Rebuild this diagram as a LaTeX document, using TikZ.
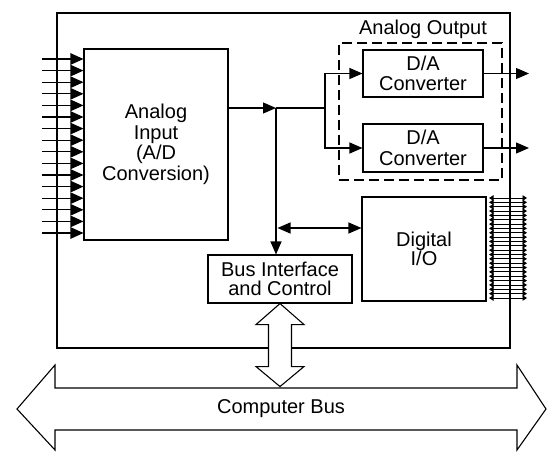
\documentclass[tikz,border=0pt]{standalone}
\usepackage{fontspec}
\setmainfont{Liberation Sans}
\usetikzlibrary{arrows.meta}

\begin{document}
\begin{tikzpicture}[
  x=1pt,y=-1pt,
  line width=1.1pt,
  font=\fontsize{20}{20.5}\selectfont,
  blk/.style={draw,line width=1.1pt,inner sep=0pt,align=center},
  grp/.style={draw,line width=1.1pt,dash pattern=on 10pt off 5pt,inner sep=0pt},
  arr/.style={-{Triangle[length=13pt,width=11pt]}},
  dblarr/.style={{Triangle[length=13pt,width=11pt]}-{Triangle[length=13pt,width=11pt]}},
  inarr/.style={-{Triangle[length=13pt,width=11.5pt]}},
  dioarr/.style={{Triangle[length=4.5pt,width=5.5pt]}-{Triangle[length=4.5pt,width=5.5pt]},line width=0.9pt},
  bus/.style={draw,fill=white,line width=1.1pt,line join=miter}
]
\useasboundingbox (0,0) rectangle (547,452);

% board and blocks
\node[blk,minimum width=453pt,minimum height=335pt] (board) at (283.5,180.5) {};
\node[blk,minimum width=144pt,minimum height=191pt] (ai) at (156,144.5) {Analog\\Input\\(A/D\\Conversion)};
\node[grp,minimum width=163pt,minimum height=137pt] (aout) at (420.5,111.5) {};
\node (aoutlbl) at (423,29) {Analog Output};
\node[blk,minimum width=120pt,minimum height=47pt] (da1) at (423,73.5) {D/A\\Converter};
\node[blk,minimum width=120pt,minimum height=48pt] (da2) at (423,148) {D/A\\Converter};
\node[blk,minimum width=124pt,minimum height=104pt,font=\fontsize{20}{16.5}\selectfont] (dio) at (424,249) {Digital\\I/O};
\node[blk,minimum width=144pt,minimum height=48pt,font=\fontsize{20}{19}\selectfont] (bic) at (280,279) {Bus Interface\\and Control};

% analog inputs
\foreach \i in {0,...,15} {
  \coordinate (in\i) at (42,{59+11.6*\i});
  \draw[inarr] (in\i) -- (in\i -| ai.west);
}

% digital lines
\foreach \i in {0,...,23} {
  \coordinate (dl\i) at (527,{198+4.348*\i});
  \draw[dioarr,shorten <=2.5pt] (dl\i -| dio.east) -- (dl\i);
}

% internal data paths
\coordinate (jn) at (276,108);
\coordinate (split) at (325,108);
\coordinate (dbus) at (276,228);
\coordinate (out1) at (529,73.5);
\coordinate (out2) at (529,148);
\draw[arr] (ai.east |- jn) -- (jn);
\draw (jn) -- (split);
\draw[arr] (split) |- (da1.west);
\draw[arr] (split) |- (da2.west);
\draw[arr] (da1.east) -- (out1);
\draw[arr] (da2.east) -- (out2);
\draw[arr] (jn) -- (jn |- bic.north);
\draw[dblarr,shorten <=1.5pt] (dbus) -- (dbus -| dio.west);

% buses
\draw[bus] (bic.south) -- ++(24,21) -- ++(-12.5,0) -- ++(0,42) -- ++(12.5,0) -- ++(-24,20)
  -- ++(-24,-20) -- ++(12.5,0) -- ++(0,-42) -- ++(-12.5,0) -- cycle;
\draw[bus] (17,409) -- (55,365) -- (55,388) -- (517,388) -- (517,365) -- (546,409)
  -- (517,450) -- (517,430) -- (55,430) -- (55,450) -- cycle;
\node (cbus) at (281,409) {Computer Bus};
\end{tikzpicture}
\end{document}
